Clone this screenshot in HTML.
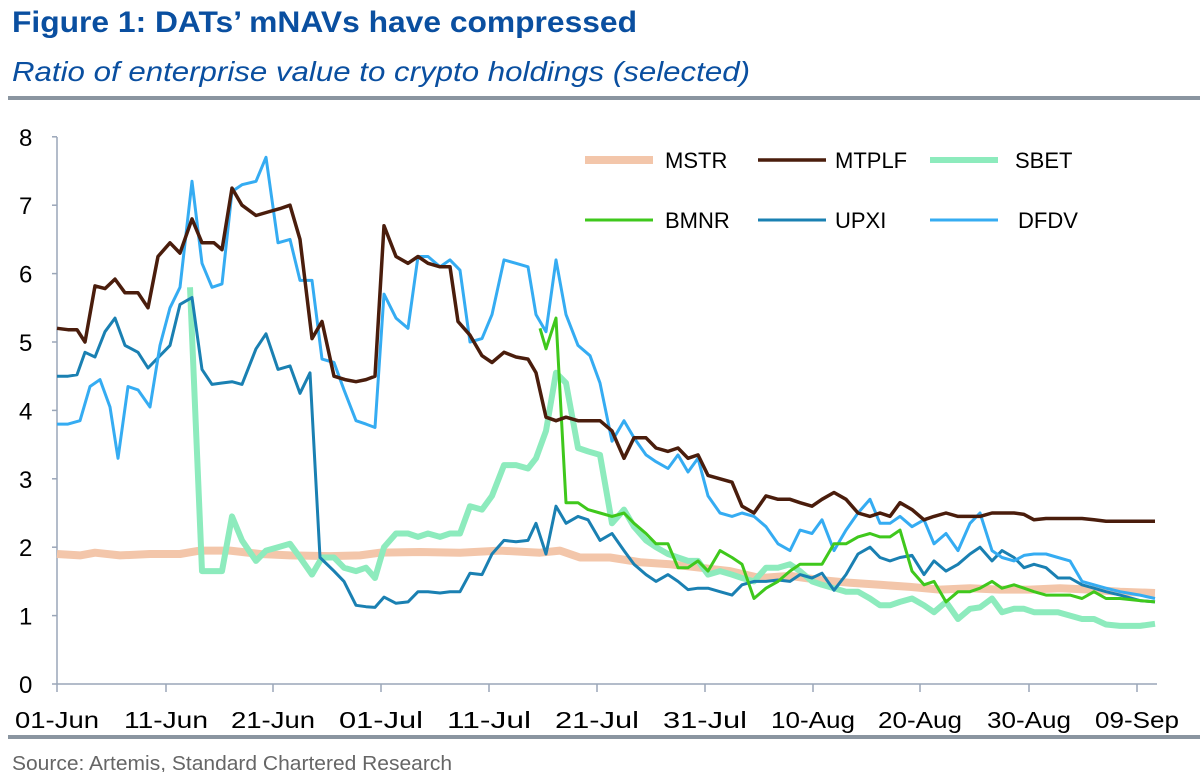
<!DOCTYPE html>
<html><head><meta charset="utf-8"><style>
body{margin:0;background:#fff;width:1200px;height:772px;overflow:hidden;font-family:"Liberation Sans",Arial,sans-serif}
</style></head><body>
<svg id="s" width="1200" height="772" xmlns="http://www.w3.org/2000/svg" font-family="Liberation Sans, Arial, sans-serif">
<text x="12" y="32" font-size="30" font-weight="bold" fill="#0a4fa0" textLength="625" lengthAdjust="spacingAndGlyphs">Figure 1: DATs’ mNAVs have compressed</text>
<text x="12" y="81" font-size="28" font-style="italic" fill="#0a4fa0" textLength="738" lengthAdjust="spacingAndGlyphs">Ratio of enterprise value to crypto holdings (selected)</text>
<rect x="8" y="96" width="1192" height="4" fill="#8a95a0"/>
<rect x="8" y="735" width="1192" height="4" fill="#8a95a0"/>
<text x="12" y="770" font-size="20" fill="#666" textLength="440" lengthAdjust="spacingAndGlyphs">Source: Artemis, Standard Chartered Research</text>
<g id="axes" stroke="#9aa6b8" stroke-width="1.5"></g>
<g id="lbl" font-size="24" fill="#000"></g>
<g id="ser" fill="none" stroke-linejoin="round"></g>
<g id="leg" font-size="22" fill="#000"></g>
</svg>
<script>
const NS="http://www.w3.org/2000/svg";
function el(p,t,a,txt){const e=document.createElementNS(NS,t);for(const k in a)e.setAttribute(k,a[k]);if(txt!=null)e.textContent=txt;document.getElementById(p).appendChild(e);return e;}
const Y=v=>684-68.4*v;
el("axes","line",{x1:57,y1:137,x2:57,y2:684});
el("axes","line",{x1:57,y1:684,x2:1157,y2:684});
for(let i=0;i<=8;i++){el("axes","line",{x1:52,y1:Y(i),x2:57,y2:Y(i)});el("lbl","text",{x:19,y:Y(i)+9},String(i));}
const xt=[57,166,273,381,489,597,705,813,920,1029,1137];
const xl=["01-Jun","11-Jun","21-Jun","01-Jul","11-Jul","21-Jul","31-Jul","10-Aug","20-Aug","30-Aug","09-Sep"];
xt.forEach((x,i)=>{el("axes","line",{x1:x,y1:684,x2:x,y2:692});el("lbl","text",{x:x,y:728,"text-anchor":"middle","font-size":"23",textLength:"84",lengthAdjust:"spacingAndGlyphs"},xl[i]);});
function P(s){const a=s.trim().split(/,\s*/).map(p=>p.split(":").map(Number));return a.map((p,i)=>(i?"L":"M")+p[0]+","+Y(p[1]).toFixed(1)).join(" ");}
const S={
MSTR:["#f3c6aa",8,"57:1.9,80:1.88,95:1.92,120:1.88,150:1.9,180:1.9,200:1.95,230:1.95,260:1.9,290:1.88,330:1.87,360:1.88,380:1.92,420:1.93,460:1.92,500:1.95,540:1.92,560:1.95,580:1.85,610:1.85,640:1.78,670:1.75,700:1.7,730:1.65,760:1.55,790:1.58,820:1.52,850:1.48,880:1.45,910:1.42,940:1.38,970:1.4,1000:1.38,1030:1.38,1060:1.4,1090:1.38,1120:1.35,1155:1.33"],
SBET:["#8debbd",6,"190:5.8,202:1.65,212:1.65,222:1.65,232:2.45,242:2.1,256:1.8,266:1.95,278:2.0,290:2.05,300:1.85,312:1.6,322:1.85,334:1.85,344:1.7,356:1.65,366:1.7,375:1.55,384:2.0,396:2.2,408:2.2,418:2.15,428:2.2,440:2.15,450:2.2,460:2.2,470:2.6,482:2.55,492:2.75,504:3.2,516:3.2,528:3.15,536:3.3,546:3.7,556:4.55,566:4.4,578:3.45,588:3.4,600:3.35,612:2.35,624:2.55,634:2.3,646:2.1,656:2.0,668:1.9,678:1.85,688:1.8,698:1.8,708:1.6,720:1.65,732:1.6,742:1.55,754:1.5,766:1.7,778:1.7,790:1.75,800:1.65,812:1.5,822:1.45,834:1.4,846:1.35,858:1.35,870:1.25,880:1.15,890:1.15,900:1.2,912:1.25,924:1.15,934:1.05,946:1.2,958:0.95,970:1.1,980:1.12,992:1.25,1002:1.05,1014:1.1,1024:1.1,1034:1.05,1046:1.05,1058:1.05,1070:1.0,1082:0.95,1094:0.95,1106:0.87,1120:0.85,1140:0.85,1155:0.88"],
UPXI:["#1a80b2",3,"57:4.5,68:4.5,77:4.52,85:4.85,95:4.78,105:5.15,115:5.35,125:4.95,138:4.85,148:4.62,160:4.8,170:4.95,180:5.55,192:5.65,202:4.6,212:4.38,222:4.4,232:4.42,242:4.38,256:4.9,266:5.12,278:4.6,290:4.65,300:4.25,310:4.55,320:1.85,334:1.65,344:1.5,356:1.15,366:1.13,375:1.12,384:1.27,396:1.18,408:1.2,418:1.35,428:1.35,440:1.33,450:1.35,460:1.35,470:1.62,482:1.6,492:1.9,504:2.1,516:2.08,528:2.1,536:2.35,546:1.9,556:2.6,566:2.35,578:2.45,588:2.4,600:2.1,612:2.2,624:1.95,634:1.75,646:1.6,656:1.5,668:1.6,678:1.5,688:1.38,698:1.4,708:1.4,720:1.35,732:1.3,742:1.45,754:1.5,766:1.5,778:1.52,790:1.5,800:1.6,812:1.55,822:1.62,834:1.37,846:1.6,858:1.9,870:2.0,880:1.85,890:1.8,900:1.85,912:1.88,924:1.6,934:1.8,946:1.65,958:1.75,970:1.9,980:2.0,992:1.8,1002:1.95,1014:1.85,1024:1.7,1034:1.75,1046:1.7,1058:1.55,1070:1.55,1082:1.45,1094:1.4,1106:1.35,1120:1.3,1140:1.22,1155:1.2"],
DFDV:["#35acf2",3,"57:3.8,68:3.8,80:3.85,90:4.35,100:4.45,110:4.05,118:3.3,128:4.35,138:4.3,150:4.05,160:4.95,170:5.5,180:5.8,192:7.35,202:6.15,212:5.8,222:5.85,232:7.2,242:7.3,256:7.35,266:7.7,278:6.45,290:6.5,300:5.9,312:5.9,322:4.75,334:4.7,344:4.3,356:3.85,366:3.8,375:3.75,384:5.7,396:5.35,408:5.2,418:6.25,428:6.25,440:6.1,450:6.2,460:6.05,470:5.0,482:5.05,492:5.4,504:6.2,516:6.15,528:6.1,536:5.4,546:5.15,556:6.2,566:5.4,578:4.95,590:4.8,600:4.4,612:3.55,624:3.85,634:3.6,646:3.35,656:3.25,668:3.15,678:3.35,688:3.1,698:3.3,708:2.75,720:2.5,732:2.45,742:2.5,754:2.45,766:2.3,778:2.05,790:1.95,800:2.25,812:2.2,822:2.4,834:1.95,846:2.25,858:2.5,870:2.7,880:2.35,890:2.35,900:2.45,912:2.3,924:2.4,934:2.05,946:2.2,958:1.95,970:2.35,980:2.5,992:1.95,1002:1.85,1014:1.8,1024:1.88,1034:1.9,1046:1.9,1058:1.85,1070:1.8,1082:1.5,1094:1.45,1106:1.4,1120:1.35,1140:1.3,1155:1.25"],
BMNR:["#3fc81c",3,"540:5.2,546:4.9,556:5.35,566:2.65,578:2.65,588:2.55,600:2.5,612:2.45,624:2.5,634:2.35,646:2.2,656:2.05,668:2.05,678:1.7,688:1.7,698:1.8,708:1.65,720:1.95,732:1.85,742:1.75,754:1.25,766:1.4,778:1.5,790:1.65,800:1.75,812:1.75,822:1.75,834:2.05,846:2.05,858:2.15,870:2.2,880:2.15,890:2.15,900:2.25,912:1.65,924:1.45,934:1.5,946:1.2,958:1.35,970:1.35,980:1.4,992:1.5,1002:1.4,1014:1.45,1024:1.4,1034:1.35,1046:1.3,1058:1.3,1070:1.3,1082:1.25,1094:1.35,1106:1.25,1120:1.25,1140:1.22,1155:1.2"],
MTPLF:["#4a1d0c",3.5,"57:5.2,68:5.18,77:5.18,85:5.0,95:5.82,105:5.78,115:5.92,125:5.72,138:5.72,148:5.5,158:6.25,170:6.45,180:6.3,192:6.8,202:6.45,214:6.45,222:6.35,232:7.25,242:7.0,256:6.85,268:6.9,280:6.95,290:7.0,300:6.5,312:5.05,322:5.3,334:4.5,345:4.45,356:4.42,366:4.45,375:4.5,384:6.7,396:6.25,408:6.15,418:6.25,428:6.15,440:6.1,450:6.1,458:5.3,470:5.1,482:4.8,492:4.7,504:4.85,516:4.78,528:4.75,536:4.55,546:3.9,556:3.85,566:3.9,578:3.85,588:3.85,600:3.85,612:3.7,624:3.3,634:3.6,646:3.6,656:3.45,668:3.4,678:3.45,688:3.3,698:3.35,708:3.05,720:3.0,732:2.95,742:2.6,754:2.5,766:2.75,778:2.7,790:2.7,800:2.65,812:2.6,822:2.7,834:2.8,846:2.7,858:2.5,870:2.45,880:2.5,890:2.45,900:2.65,912:2.55,924:2.4,934:2.45,946:2.5,958:2.45,970:2.45,980:2.45,992:2.5,1002:2.5,1014:2.5,1024:2.48,1034:2.4,1046:2.42,1058:2.42,1070:2.42,1082:2.42,1094:2.4,1106:2.38,1120:2.38,1140:2.38,1155:2.38"]};
for(const k of ["MSTR","SBET","UPXI","DFDV","BMNR","MTPLF"]){const [c,w,d]=S[k];el("ser","path",{d:P(d),stroke:c,"stroke-width":w});}
const L=[["MSTR",585,160,665],["MTPLF",758,160,835],["SBET",930,160,1015],["BMNR",585,220,665],["UPXI",758,220,835],["DFDV",930,220,1018]];
L.forEach(([k,x,y,tx])=>{const [c,w]=S[k];el("leg","line",{x1:x,y1:y,x2:x+68,y2:y,stroke:c,"stroke-width":w});el("leg","text",{x:tx,y:y+8},k);});
</script>
</body></html>
